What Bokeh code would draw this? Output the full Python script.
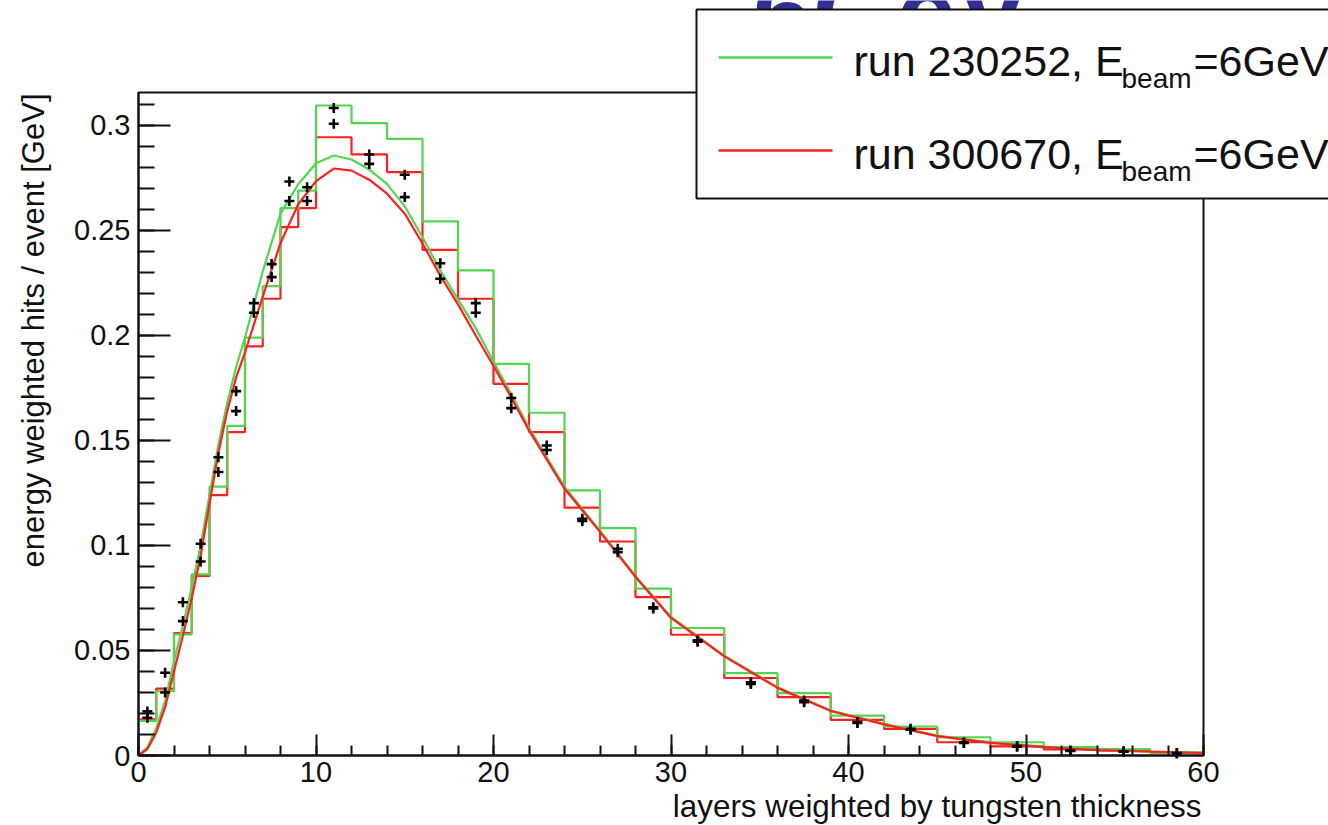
from bokeh.plotting import figure
from bokeh.models import FixedTicker, Label, BoxAnnotation, Arrow
from bokeh.embed import file_html
from bokeh.resources import INLINE

# ---- data -----------------------------------------------------------------
# variable-width binning: 1 layer up to 10, 2 up to 30, 3 up to 60
bin_edges = [0, 1, 2, 3, 4, 5, 6, 7, 8, 9, 10,
             12, 14, 16, 18, 20, 22, 24, 26, 28, 30,
             33, 36, 39, 42, 45, 48, 51, 54, 57, 60]

hist_230252 = [0.0165, 0.0306, 0.0577, 0.0862, 0.128, 0.157, 0.199, 0.2235, 0.2606, 0.269,
               0.3095, 0.3011, 0.2936, 0.2543, 0.231, 0.1865, 0.1632, 0.1262, 0.1083, 0.0795,
               0.0607, 0.0392, 0.0297, 0.0190, 0.0138, 0.0087, 0.0063, 0.0040, 0.0030, 0.0014]

hist_300670 = [0.0172, 0.0318, 0.0583, 0.0855, 0.124, 0.154, 0.1948, 0.2175, 0.2516, 0.2606,
               0.2944, 0.2862, 0.2778, 0.2408, 0.2175, 0.177, 0.154, 0.118, 0.1019, 0.0754,
               0.0575, 0.0369, 0.0278, 0.0170, 0.0127, 0.0063, 0.0043, 0.0029, 0.0024, 0.0013]

# measured points at the bin centres (two data sets)
pt_x = [0.5, 1.5, 2.5, 3.5, 4.5, 5.5, 6.5, 7.5, 8.5, 9.5,
        11, 13, 15, 17, 19, 21, 23, 25, 27, 29,
        31.5, 34.5, 37.5, 40.5, 43.5, 46.5, 49.5, 52.5, 55.5, 58.5]
pt_a = [0.021, 0.0394, 0.073, 0.1008, 0.142, 0.1735, 0.2154, 0.234, 0.2733, 0.2706,
        0.3083, 0.2862, 0.2765, 0.2344, 0.2154, 0.1702, 0.1476, 0.1127, 0.0984, 0.0706,
        0.0548, 0.0349, 0.0262, 0.0159, 0.0127, 0.0063, 0.0045, 0.0024, 0.0020, 0.0012]
pt_b = [0.018, 0.030, 0.064, 0.0924, 0.135, 0.164, 0.2108, 0.2278, 0.264, 0.264,
        0.3008, 0.2817, 0.2659, 0.227, 0.2108, 0.1654, 0.1455, 0.1117, 0.0968, 0.0700,
        0.0542, 0.0341, 0.0254, 0.0155, 0.0123, 0.0060, 0.0042, 0.0022, 0.0018, 0.0010]

# fitted longitudinal profiles
fit_x = [0, 0.5, 1, 1.5, 2, 2.5, 3, 3.5, 4, 4.5, 5, 5.5, 6, 7, 8, 9, 10, 11, 12, 13,
         14, 15, 16, 17, 18, 19, 20, 21, 22, 24, 26, 28, 30, 33, 36, 39, 42, 45, 48,
         51, 54, 57, 60]
fit_230252 = [0.0, 0.004, 0.013, 0.026, 0.045, 0.062, 0.080, 0.100, 0.124, 0.148, 0.168,
              0.185, 0.199, 0.2305, 0.258, 0.272, 0.282, 0.2857, 0.2838, 0.279,
              0.2722, 0.2615, 0.2468, 0.231, 0.2172, 0.2035, 0.1875, 0.172, 0.156, 0.128,
              0.107, 0.0855, 0.066, 0.0476, 0.0325, 0.0214, 0.0151, 0.0095, 0.0063,
              0.0042, 0.0028, 0.0019, 0.0013]
fit_300670 = [0.0, 0.003, 0.011, 0.023, 0.040, 0.057, 0.075, 0.095, 0.120, 0.144, 0.164,
              0.180, 0.192, 0.2185, 0.244, 0.2625, 0.2735, 0.2795, 0.2785, 0.2742,
              0.2675, 0.258, 0.2438, 0.2285, 0.2148, 0.200, 0.1855, 0.1705, 0.1548, 0.127,
              0.1065, 0.085, 0.0655, 0.0472, 0.0322, 0.0212, 0.0148, 0.0092, 0.006,
              0.004, 0.0026, 0.0018, 0.0012]

x_ticks = [0, 10, 20, 30, 40, 50, 60]
y_ticks = [0, 0.05, 0.1, 0.15, 0.2, 0.25, 0.3]
y_tick_labels = ["0", "0.05", "0.1", "0.15", "0.2", "0.25", "0.3"]

legend_runs = ["run 230252, E", "run 300670, E"]

# ---- styling ----------------------------------------------------------------
GREEN = "#52d652"
RED = "#ff1f1f"
INK = "#111111"
FONT = "Liberation Sans"

W, H = 1328, 825
# pad (frame) placement on the canvas, in pixels
PAD_L, PAD_R, PAD_T, PAD_B = 138, 1203, 92, 755
X0, X1 = 0, 60
Y0, Y1 = 0, 0.3157

kx = (X1 - X0) / (PAD_R - PAD_L)
ky = (Y1 - Y0) / (PAD_B - PAD_T)

def px2x(px):
    return X0 + (px - PAD_L) * kx

def py2y(py):
    return Y0 + (PAD_B - py) * ky

# the plotting area spans the whole canvas; the axes sit at fixed positions inside it
p = figure(width=W, height=H, output_backend="svg", toolbar_location=None,
           x_range=(px2x(0), px2x(W)), y_range=(py2y(H), py2y(0)),
           min_border=0)
p.background_fill_color = "white"
p.border_fill_color = "white"
p.outline_line_color = None
p.xgrid.visible = False
p.ygrid.visible = False

xa = p.xaxis[0]
xa.fixed_location = Y0
xa.bounds = (X0, X1)
xa.ticker = FixedTicker(ticks=x_ticks, minor_ticks=list(range(0, 61, 2)))
xa.major_tick_in = 21
xa.major_tick_out = 0
xa.minor_tick_in = 10
xa.minor_tick_out = 0
xa.major_label_standoff = 6

ya = p.yaxis[0]
ya.fixed_location = X0
ya.bounds = (Y0, Y1)
ya.ticker = FixedTicker(ticks=y_ticks, minor_ticks=[i / 100 for i in range(0, 32)])
ya.major_label_overrides = dict(zip(y_ticks, y_tick_labels))
ya.major_tick_in = 32
ya.major_tick_out = 0
ya.minor_tick_in = 16
ya.minor_tick_out = 0
ya.major_label_standoff = 8

for ax in (xa, ya):
    ax.axis_line_color = INK
    ax.axis_line_width = 2
    ax.major_tick_line_color = INK
    ax.major_tick_line_width = 2
    ax.minor_tick_line_color = INK
    ax.minor_tick_line_width = 2
    ax.major_label_text_font = FONT
    ax.major_label_text_font_size = "29px"
    ax.major_label_text_color = INK

# pad frame
p.add_layout(BoxAnnotation(left=X0, right=X1, bottom=Y0, top=Y1,
                           fill_alpha=0, line_color=INK, line_alpha=1.0,
                           line_width=2, level="underlay"))

# histograms as step outlines
p.step(bin_edges, hist_300670 + [hist_300670[-1]], mode="after", line_color=RED, line_width=2.2)
p.step(bin_edges, hist_230252 + [hist_230252[-1]], mode="after", line_color=GREEN, line_width=2.2)

# fitted curves
p.line(fit_x, fit_230252, line_color=GREEN, line_width=2.2)
p.line(fit_x, fit_300670, line_color=RED, line_width=2.2)

# data points
p.scatter(pt_x, pt_a, marker="cross", size=10, line_width=2.6, line_color="black")
p.scatter(pt_x, pt_b, marker="cross", size=10, line_width=2.6, line_color="black")

# axis titles
p.add_layout(Label(x=px2x(1201), y=py2y(806), text="layers weighted by tungsten thickness",
                   text_align="right", text_baseline="middle", text_font=FONT,
                   text_font_size="31.4px", text_color=INK))
p.add_layout(Label(x=px2x(33), y=py2y(93), text="energy weighted hits / event [GeV]",
                   angle=1.5707963, text_align="right", text_baseline="middle",
                   text_font=FONT, text_font_size="31px", text_color=INK))

# slide heading peeking out above the legend box
p.add_layout(Label(x=px2x(752), y=py2y(12), text="6GeV", text_align="left",
                   text_baseline="alphabetic", text_font=FONT, text_font_style="bold",
                   text_font_size="108px", text_color="#2f2f94"))

# legend box
p.add_layout(BoxAnnotation(left=px2x(696), right=px2x(1345), top=py2y(9), bottom=py2y(198),
                           fill_color="white", fill_alpha=1.0, line_color=INK,
                           line_width=2, line_alpha=1.0, level="overlay"))

for run_text, color, line_y, base_y in zip(legend_runs, [GREEN, RED], [57, 150], [60, 153]):
    p.add_layout(Arrow(end=None, x_start=px2x(718), x_end=px2x(832),
                       y_start=py2y(line_y), y_end=py2y(line_y),
                       line_color=color, line_width=2.5, level="overlay"))
    p.add_layout(Label(x=px2x(853), y=py2y(base_y), text=run_text, text_align="left",
                       text_baseline="alphabetic", text_font=FONT, text_font_size="43px",
                       text_color=INK, level="overlay"))
    p.add_layout(Label(x=px2x(1121), y=py2y(base_y + 18), text="beam", text_align="left",
                       text_baseline="alphabetic", text_font=FONT, text_font_size="28px",
                       text_color=INK, level="overlay"))
    p.add_layout(Label(x=px2x(1193), y=py2y(base_y), text="=6GeV", text_align="left",
                       text_baseline="alphabetic", text_font=FONT, text_font_size="43px",
                       text_color=INK, level="overlay"))

open("out.html", "w").write(file_html(p, INLINE))
